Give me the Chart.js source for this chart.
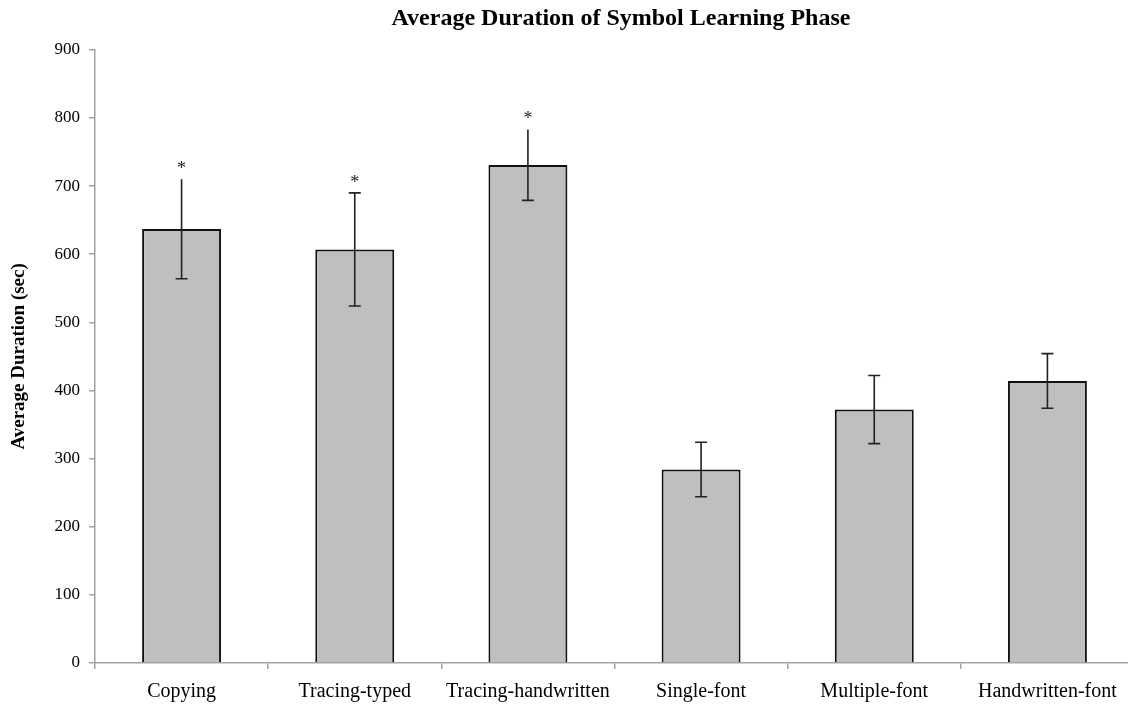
<!DOCTYPE html>
<html>
<head>
<meta charset="utf-8">
<title>Average Duration of Symbol Learning Phase</title>
<script src="https://cdn.jsdelivr.net/npm/chart.js@4.4.1/dist/chart.umd.min.js"></script>
<style>
    html, body { margin: 0; padding: 0; background: #fff; overflow: hidden; }
    #wrap { width: 1128px; height: 704px; overflow: hidden; }
</style>
</head>
<body>
<div id="wrap"><canvas id="durChart" width="1242" height="704"></canvas></div>
<script>
// Data
const categories = ['Copying', 'Tracing-typed', 'Tracing-handwritten', 'Single-font', 'Multiple-font', 'Handwritten-font'];
const avgDuration = [637, 607, 731, 284, 372, 414];
const errDuration = [73, 83, 52, 40, 50, 40];
const topCap = [false, true, false, true, true, true];
const marks = ['*', '*', '*', '', '', ''];
const yTicks = [0, 100, 200, 300, 400, 500, 600, 700, 800, 900];

const serif = "'Liberation Serif', 'Times New Roman', serif";
const axisGray = '#a3a3a3';

// Error bars + significance stars
const errorBarPlugin = {
    id: 'errorBars',
    afterDatasetsDraw(chart) {
        const ctx = chart.ctx;
        const yScale = chart.scales.y;
        const meta = chart.getDatasetMeta(0);
        ctx.save();
        ctx.strokeStyle = '#222';
        ctx.lineWidth = 1.6;
        meta.data.forEach((bar, i) => {
            const x = bar.x;
            const yTop = yScale.getPixelForValue(avgDuration[i] + errDuration[i]);
            const yBot = yScale.getPixelForValue(avgDuration[i] - errDuration[i]);
            ctx.beginPath();
            ctx.moveTo(x, yTop);
            ctx.lineTo(x, yBot);
            ctx.moveTo(x - 6, yBot);
            ctx.lineTo(x + 6, yBot);
            if (topCap[i]) {
                ctx.moveTo(x - 6, yTop);
                ctx.lineTo(x + 6, yTop);
            }
            ctx.stroke();

            if (marks[i]) {
                ctx.fillStyle = '#222';
                ctx.font = '18px ' + serif;
                ctx.textAlign = 'center';
                ctx.textBaseline = 'middle';
                ctx.fillText(marks[i], x, yTop - 10);
            }
        });
        ctx.restore();
    }
};

const ctx = document.getElementById('durChart').getContext('2d');
new Chart(ctx, {
    type: 'bar',
    data: {
        labels: categories,
        datasets: [{
            label: 'Average Duration (sec)',
            data: avgDuration,
            backgroundColor: '#bfbfbf',
            borderColor: '#111',
            borderWidth: 2,
            categoryPercentage: 1,
            barPercentage: 0.456
        }]
    },
    options: {
        responsive: false,
        animation: false,
        layout: { padding: 0 },
        plugins: {
            legend: { display: false },
            tooltip: { enabled: false },
            title: {
                display: true,
                text: 'Average Duration of Symbol Learning Phase',
                color: '#000',
                font: { family: serif, size: 24, weight: 'bold' },
                padding: { top: 4, bottom: 17 }
            }
        },
        scales: {
            x: {
                afterFit(s) { s.height = 41; },
                grid: {
                    drawOnChartArea: false,
                    drawTicks: true,
                    tickLength: 6,
                    color: axisGray,
                    lineWidth: 1.5
                },
                border: { color: axisGray, width: 1.5 },
                ticks: {
                    color: '#000',
                    padding: 11,
                    font: { family: serif, size: 20 },
                    maxRotation: 0
                }
            },
            y: {
                min: 0,
                max: 900,
                afterFit(s) { s.width = 95; },
                afterBuildTicks(s) { s.ticks = yTicks.map(v => ({ value: v })); },
                grid: {
                    drawOnChartArea: false,
                    drawTicks: true,
                    tickLength: 6,
                    color: axisGray,
                    lineWidth: 1.5
                },
                border: { color: axisGray, width: 1.5 },
                ticks: {
                    color: '#000',
                    padding: 9,
                    font: { family: serif, size: 17 }
                },
                title: {
                    display: true,
                    text: 'Average Duration (sec)',
                    color: '#000',
                    font: { family: serif, size: 19, weight: 'bold' },
                    padding: { top: 8, bottom: 4 }
                }
            },
            // empty right-side spacer so the plot runs off the right edge
            // while the title stays centred where the reference has it
            spacer: {
                type: 'linear',
                position: 'right',
                afterFit(s) { s.width = 108; },
                grid: { display: false },
                border: { display: false },
                ticks: { display: false }
            }
        }
    },
    plugins: [errorBarPlugin]
});
</script>
</body>
</html>
